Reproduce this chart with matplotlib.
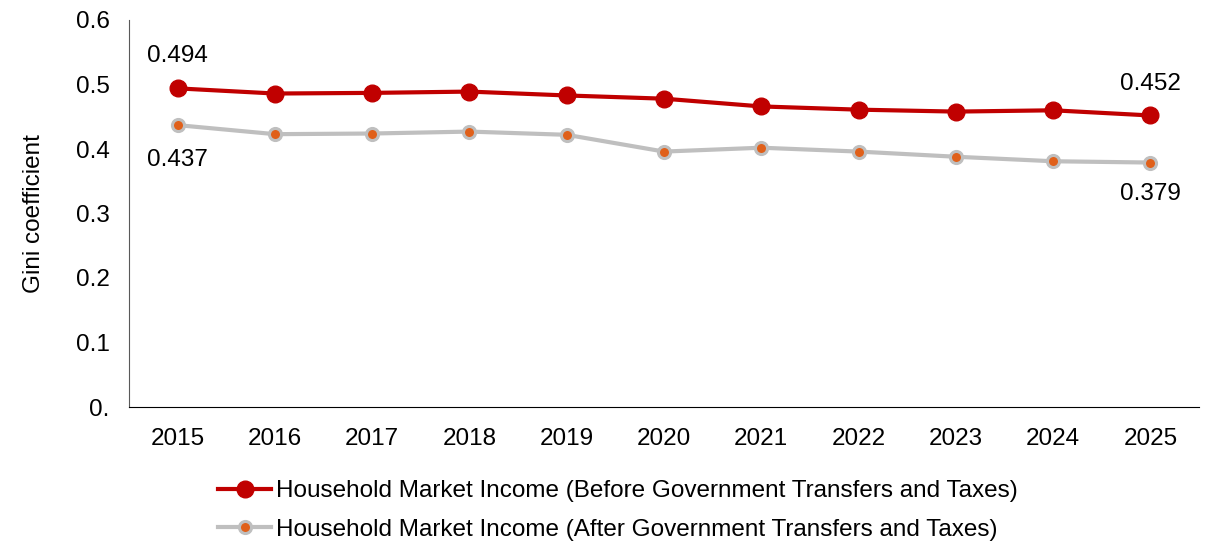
import matplotlib
matplotlib.use("Agg")
from matplotlib import pyplot as plt

years = ["2015", "2016", "2017", "2018", "2019", "2020", "2021", "2022", "2023", "2024", "2025"]
before_tax = [0.494, 0.486, 0.487, 0.489, 0.483, 0.478, 0.466, 0.461, 0.458, 0.460, 0.452]
after_tax = [0.437, 0.423, 0.424, 0.427, 0.422, 0.396, 0.402, 0.396, 0.388, 0.381, 0.379]
y_ticks = [0.0, 0.1, 0.2, 0.3, 0.4, 0.5, 0.6]
y_tick_labels = ["0.", "0.1", "0.2", "0.3", "0.4", "0.5", "0.6"]
label_before = "Household Market Income (Before Government Transfers and Taxes)"
label_after = "Household Market Income (After Government Transfers and Taxes)"

plt.rcParams["font.family"] = ["Liberation Sans", "DejaVu Sans"]
fs = 17.5

fig = plt.figure(figsize=(12.05, 5.42), dpi=100)
ax = fig.add_axes([129 / 1205, 1 - 407 / 542, (1199 - 129) / 1205, (407 - 20) / 542])

x = list(range(len(years)))
ax.plot(x, before_tax, color="#c00000", lw=3, marker="o", ms=12,
        mfc="#c00000", mec="#c00000", label=label_before, zorder=3)
ax.plot(x, after_tax, color="#bfbfbf", lw=3, marker="o", ms=8.7,
        mfc="#e0601a", mec="#bfbfbf", mew=2.2, label=label_after, zorder=2)

# end point labels
ax.annotate(f"{before_tax[0]:.3f}", (x[0], before_tax[0]), xytext=(0, 23),
            textcoords="offset points", ha="center", va="center", fontsize=fs)
ax.annotate(f"{before_tax[-1]:.3f}", (x[-1], before_tax[-1]), xytext=(0, 23),
            textcoords="offset points", ha="center", va="center", fontsize=fs)
ax.annotate(f"{after_tax[0]:.3f}", (x[0], after_tax[0]), xytext=(0, -25),
            textcoords="offset points", ha="center", va="center", fontsize=fs)
ax.annotate(f"{after_tax[-1]:.3f}", (x[-1], after_tax[-1]), xytext=(0, -23),
            textcoords="offset points", ha="center", va="center", fontsize=fs)

ax.set_xlim(-0.5, len(years) - 0.5)
ax.set_ylim(0, 0.6)
ax.set_xticks(x)
ax.set_xticklabels(years, fontsize=fs)
ax.set_yticks(y_ticks)
ax.set_yticklabels(y_tick_labels, fontsize=fs)
ax.tick_params(axis="both", length=0)
ax.tick_params(axis="x", pad=15)
ax.tick_params(axis="y", pad=14)
ax.set_ylabel("Gini coefficient", fontsize=fs, labelpad=22)

for s in ["top", "right"]:
    ax.spines[s].set_visible(False)
ax.spines["left"].set_color("#595959")
ax.spines["bottom"].set_color("#000000")
ax.spines["left"].set_linewidth(0.8)
ax.spines["bottom"].set_linewidth(0.8)

leg = fig.legend(loc="upper left", bbox_to_anchor=(218 / 1205, 1 - 480 / 542),
                 frameon=False, fontsize=fs, handlelength=2.2, labelspacing=0.68,
                 handletextpad=0.2, borderpad=0, borderaxespad=0)

fig.savefig("out.png", dpi=100)
